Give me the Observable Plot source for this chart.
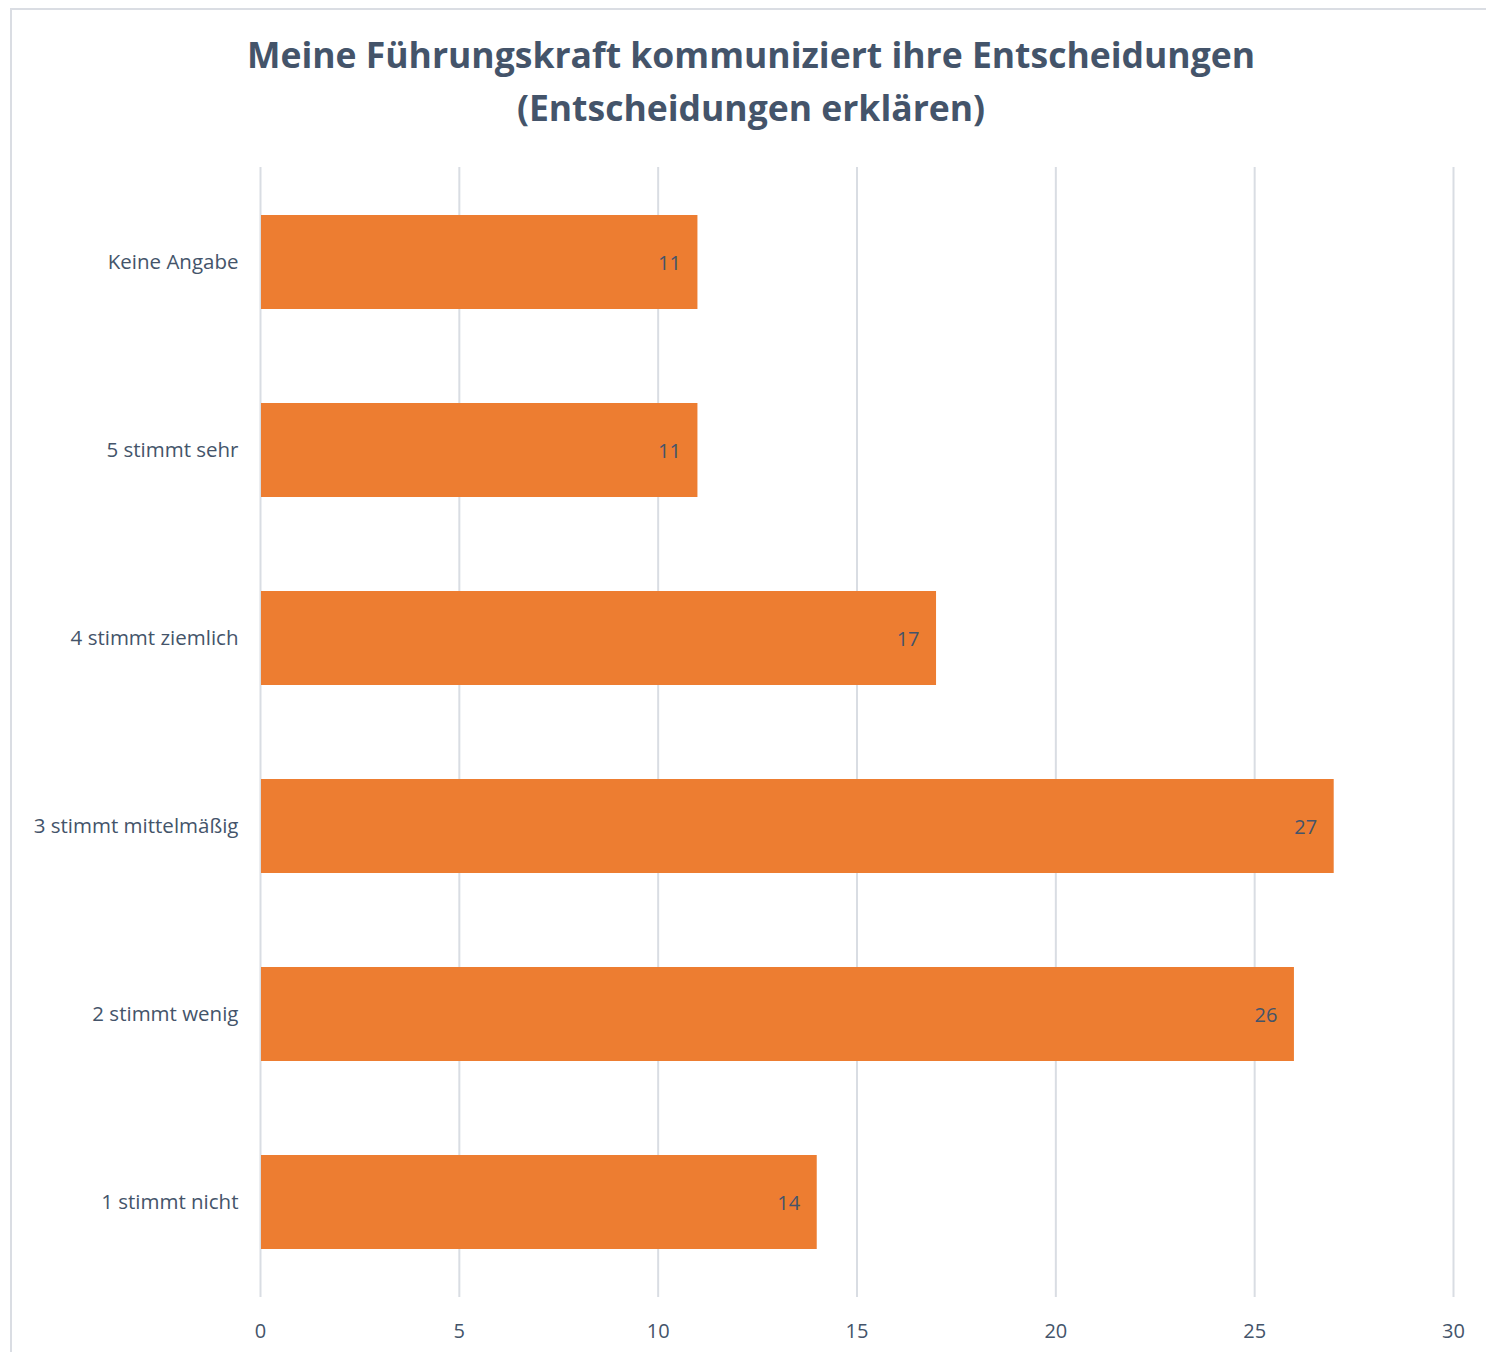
<!DOCTYPE html>
<html>
<head>
<meta charset="utf-8">
<script src="https://cdn.jsdelivr.net/npm/d3@7"></script>
<script src="https://cdn.jsdelivr.net/npm/@observablehq/plot@0.6"></script>
<style>
  html, body { margin: 0; padding: 0; background: #fff; width: 1486px; height: 1352px; overflow: hidden; }
  #frame { position: absolute; left: 10px; top: 8px; width: 1500px; height: 1400px; border: 2px solid #DADDE3; box-sizing: border-box; }
  #title { position: absolute; left: 0; top: 28px; width: 1502px; text-align: center; font-family: "Open Sans", sans-serif; font-weight: 700; font-size: 35.5px; line-height: 53px; color: #44546A; }
  #chart { position: absolute; left: 0; top: 0; }
</style>
</head>
<body>
<div id="frame"></div>
<div id="chart"></div>
<div id="title">Meine Führungskraft kommuniziert ihre Entscheidungen<br>(Entscheidungen erklären)</div>
<script>
const categories = ["Keine Angabe", "5 stimmt sehr", "4 stimmt ziemlich", "3 stimmt mittelmäßig", "2 stimmt wenig", "1 stimmt nicht"];
const values = [11, 11, 17, 27, 26, 14];
const xTicks = [0, 5, 10, 15, 20, 25, 30];

const data = categories.map((c, i) => ({category: c, value: values[i]}));
const textColor = "#44546A";

const chart = Plot.plot({
  width: 1486,
  height: 1352,
  marginLeft: 260,
  marginRight: 33,
  marginTop: 167,
  marginBottom: 55,
  style: {fontFamily: "'Open Sans', sans-serif", fontSize: "20px", color: textColor, background: "transparent"},
  x: {domain: [0, 30], ticks: xTicks},
  y: {domain: categories, paddingInner: 0.5, paddingOuter: 0.25},
  marks: [
    Plot.gridX(xTicks, {stroke: "#D9DDE3", strokeWidth: 2, strokeOpacity: 1}),
    Plot.barX(data, {x1: 0, x2: "value", y: "category", fill: "#ED7D31", insetLeft: 1}),
    Plot.text(data, {x: "value", y: "category", text: d => String(d.value), textAnchor: "end", dx: -17, dy: 1, fill: "#44546A", fontSize: 20}),
    Plot.axisX({ticks: xTicks, tickSize: 0, tickPadding: 26, label: null, fill: textColor, fontSize: 20}),
    Plot.axisY({tickSize: 0, tickPadding: 22, label: null, fill: textColor, fontSize: 20.5})
  ]
});
document.getElementById("chart").appendChild(chart);
</script>
</body>
</html>
